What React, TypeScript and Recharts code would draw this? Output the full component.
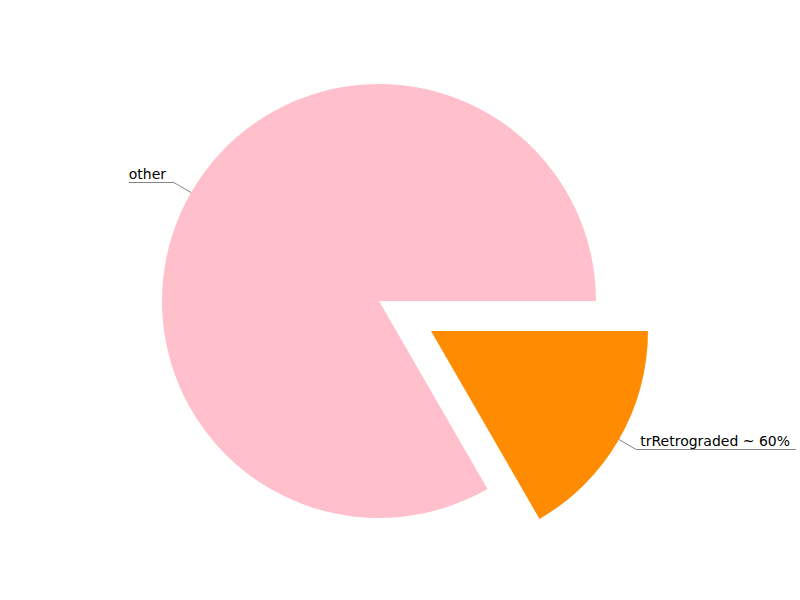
import { PieChart, Pie, Cell } from "recharts";

const names = ["other", "trRetrograded ~ 60%"];
const values = [5, 1];
const colors = ["#ffc0cb", "#ff8c00"];

const data = names.map((name, i) => ({ name, value: values[i] }));
const RAD = Math.PI / 180;

function makeLabel(only: number) {
  return (p: any) => {
    if (p.index !== only) return null;
    const a = -p.midAngle * RAD;
    const cos = Math.cos(a);
    const sin = Math.sin(a);
    const x0 = p.cx + p.outerRadius * cos;
    const y0 = p.cy + p.outerRadius * sin;
    const x1 = p.cx + (p.outerRadius + 20) * cos;
    const y1 = p.cy + (p.outerRadius + 20) * sin;
    const right = cos >= 0;
    const textW = p.name.length * 8.2;
    const x2 = right ? x1 + textW + 4 : x1 - textW - 4;
    return (
      <g>
        <polyline points={`${x0},${y0} ${x1},${y1} ${x2},${y1}`} fill="none" stroke="#333" strokeWidth={0.6} />
        <text x={right ? x1 + 4 : x2} y={y1 - 4} fill="#000" fontSize={14} textAnchor="start" fontFamily="DejaVu Sans">
          {p.name}
        </text>
      </g>
    );
  };
}

export default function App() {
  return (
    <div style={{ position: "absolute", left: 0, top: 0, background: "#fff" }}>
      <PieChart width={800} height={600}>
        <Pie data={data} dataKey="value" cx={374} cy={296} outerRadius={217} startAngle={0} endAngle={360}
          stroke="none" isAnimationActive={false} label={makeLabel(0)} labelLine={false}>
          {data.map((_, i) => (
            <Cell key={i} fill={i === 0 ? colors[0] : "none"} />
          ))}
        </Pie>
        <Pie data={data} dataKey="value" cx={426} cy={326} outerRadius={217} startAngle={0} endAngle={360}
          stroke="none" isAnimationActive={false} label={makeLabel(1)} labelLine={false}>
          {data.map((_, i) => (
            <Cell key={i} fill={i === 1 ? colors[1] : "none"} />
          ))}
        </Pie>
      </PieChart>
    </div>
  );
}
